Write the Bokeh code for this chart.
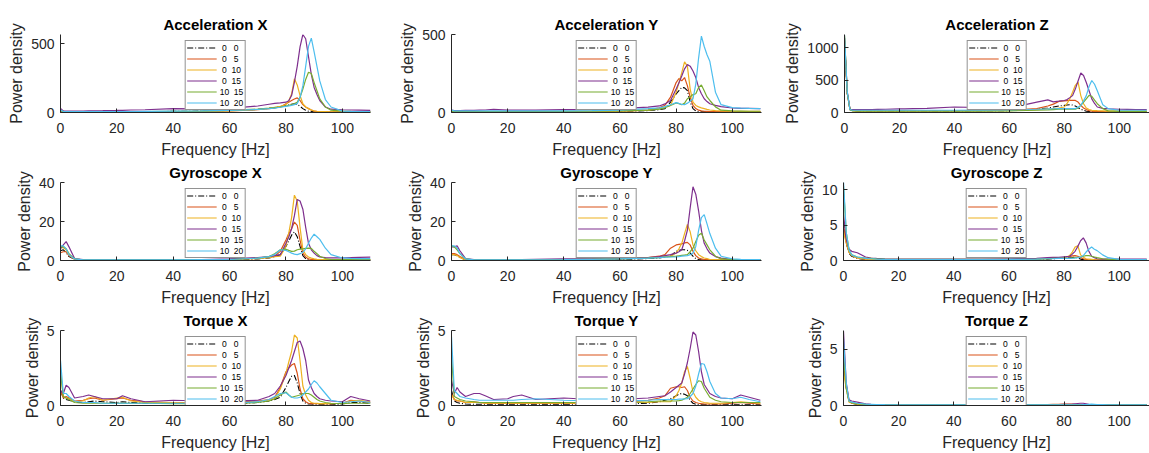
from bokeh.plotting import figure
from bokeh.layouts import row, column
from bokeh.models import Range1d, FixedTicker, Legend, LegendItem
from bokeh.embed import file_html
from bokeh.resources import INLINE

# Frequency grid [Hz]
FREQ = [0, 1, 2, 3, 5, 8, 10, 12, 15, 20,
        22, 25, 30, 40, 50, 60, 70, 74, 76, 78,
        80, 81, 82, 83, 84, 85, 86, 87, 88, 89,
        90, 91, 92, 94, 96, 100, 103, 106, 110]

NB = "\u00a0"
SERIES_LABELS = [NB + "0" + NB * 3 + "0", NB + "0" + NB * 3 + "5", NB + "0" + NB * 2 + "10",
                 NB + "0" + NB * 2 + "15", "10" + NB * 2 + "15", "10" + NB * 2 + "20"]
COLORS = ["#000000", "#D95319", "#EDB120", "#7E2F8E", "#77AC30", "#4DBEEE"]

TITLES = ["Acceleration X", "Acceleration Y", "Acceleration Z",
          "Gyroscope X", "Gyroscope Y", "Gyroscope Z",
          "Torque X", "Torque Y", "Torque Z"]
YMAX = [566, 500, 1206, 40, 40, 11.05, 5, 5, 6.67]
YTICKS = [[0, 500], [0, 500], [0, 500, 1000],
          [0, 20, 40], [0, 20, 40], [0, 5, 10],
          [0, 5], [0, 5], [0, 5]]
XTICKS = [0, 20, 40, 60, 80, 100]
XMAX = [110, 110.4, 111]

# Series order: 0 0 | 0 5 | 0 10 | 0 15 | 10 15 | 10 20
ACC_X = [
    [15, 8, 6, 6, 6, 6, 6, 6, 6, 7, 7, 7, 7, 8, 10, 15, 22, 30, 35, 42,
     50, 55, 60, 64, 58, 45, 28, 16, 9, 6, 5, 4, 4, 4, 4, 4, 4, 4, 4],
    [12, 6, 5, 5, 5, 5, 5, 5, 5, 5, 5, 5, 5, 6, 8, 12, 20, 28, 33, 40,
     64, 75, 87, 98, 106, 87, 57, 40, 28, 18, 10, 7, 6, 5, 5, 4, 4, 4, 4],
    [14, 6, 5, 5, 5, 5, 5, 5, 5, 5, 5, 5, 5, 6, 8, 12, 22, 30, 38, 45,
     57, 85, 134, 245, 200, 123, 64, 40, 28, 18, 12, 9, 7, 6, 5, 5, 5, 5, 5],
    [30, 12, 10, 10, 10, 11, 12, 12, 13, 15, 16, 18, 20, 28, 26, 30, 47, 60, 66, 70,
     75, 85, 123, 220, 335, 476, 566, 535, 405, 276, 182, 130, 87, 40, 24, 20, 18, 17, 16],
    [15, 6, 5, 5, 5, 5, 5, 5, 5, 6, 6, 6, 6, 8, 10, 15, 25, 32, 36, 40,
     47, 52, 58, 65, 75, 110, 170, 240, 292, 283, 217, 158, 99, 40, 17, 10, 8, 7, 6],
    [18, 8, 6, 6, 6, 6, 6, 6, 6, 7, 7, 7, 8, 10, 12, 15, 22, 28, 32, 38,
     45, 48, 52, 57, 64, 110, 193, 335, 480, 540, 440, 335, 229, 94, 40, 10, 8, 7, 6],
]
ACC_Y = [
    [10, 5, 5, 5, 5, 5, 5, 5, 5, 5, 5, 5, 5, 5, 6, 8, 12, 18, 25, 67,
     119, 140, 161, 158, 140, 67, 25, 10, 5, 4, 4, 4, 4, 4, 4, 4, 4, 4, 4],
    [10, 6, 6, 6, 6, 6, 6, 6, 6, 6, 6, 6, 6, 6, 7, 8, 15, 30, 46, 98,
     192, 218, 203, 224, 172, 98, 46, 25, 15, 10, 8, 7, 6, 6, 5, 5, 5, 5, 5],
    [10, 5, 5, 5, 5, 5, 5, 5, 5, 5, 5, 5, 5, 6, 7, 9, 15, 25, 35, 46,
     130, 190, 255, 324, 297, 150, 67, 45, 36, 30, 25, 20, 16, 12, 10, 8, 8, 8, 8],
    [15, 12, 12, 12, 13, 14, 15, 16, 20, 15, 15, 15, 15, 18, 20, 25, 35, 42, 55, 77,
     150, 190, 234, 280, 307, 297, 266, 224, 161, 120, 88, 70, 56, 46, 38, 29, 27, 26, 25],
    [10, 6, 6, 6, 6, 6, 6, 6, 6, 6, 6, 6, 6, 7, 8, 10, 15, 22, 30, 45,
     61, 57, 50, 60, 88, 100, 115, 120, 160, 176, 140, 100, 77, 36, 15, 10, 9, 8, 8],
    [15, 10, 10, 10, 10, 10, 10, 10, 10, 10, 10, 10, 10, 11, 12, 15, 25, 30, 38, 50,
     63, 58, 52, 50, 60, 72, 88, 182, 349, 490, 423, 370, 328, 130, 50, 31, 28, 26, 25],
]
ACC_Z = [
    [1150, 300, 45, 30, 25, 25, 25, 25, 25, 25, 25, 25, 25, 25, 27, 30, 50, 70, 85, 100,
     110, 115, 121, 115, 100, 75, 50, 35, 20, 15, 12, 10, 10, 10, 10, 10, 10, 10, 10],
    [1100, 300, 45, 30, 25, 25, 25, 25, 25, 25, 25, 25, 25, 28, 30, 35, 60, 100, 130, 171,
     181, 185, 186, 186, 186, 161, 110, 70, 45, 30, 20, 16, 14, 12, 10, 10, 10, 10, 10],
    [1180, 300, 45, 30, 25, 25, 25, 25, 25, 25, 25, 25, 25, 25, 27, 30, 45, 55, 60, 70,
     85, 140, 211, 312, 420, 470, 261, 136, 70, 45, 35, 30, 28, 25, 22, 20, 20, 20, 20],
    [1150, 320, 50, 45, 45, 45, 45, 48, 50, 55, 55, 60, 65, 85, 75, 70, 160, 195, 165, 175,
     186, 200, 230, 261, 362, 488, 610, 573, 463, 337, 211, 140, 85, 65, 58, 50, 48, 46, 45],
    [1190, 300, 40, 25, 20, 20, 20, 20, 20, 20, 20, 20, 20, 20, 22, 25, 35, 40, 45, 50,
     50, 50, 50, 50, 50, 70, 110, 160, 211, 265, 251, 190, 136, 60, 25, 18, 18, 18, 18],
    [1200, 320, 45, 35, 35, 35, 35, 35, 35, 35, 35, 35, 35, 35, 37, 40, 50, 55, 58, 60,
     60, 60, 60, 60, 60, 80, 110, 180, 261, 402, 495, 437, 337, 121, 60, 35, 35, 35, 35],
]
GYR_X = [
    [5, 5.5, 4, 2, 0.6, 0.3, 0.2, 0.2, 0.2, 0.2, 0.2, 0.2, 0.2, 0.2, 0.3, 0.4, 0.8, 1.3, 2, 3,
     7.2, 10, 13, 14.7, 12.2, 7.2, 2.5, 1, 0.3, 0.2, 0.2, 0.2, 0.2, 0.2, 0.2, 0.2, 0.2, 0.2, 0.2],
    [4, 4.5, 4.5, 2.5, 0.6, 0.3, 0.2, 0.2, 0.2, 0.2, 0.2, 0.2, 0.2, 0.3, 0.4, 0.5, 1.2, 1.8, 2.2, 4.7,
     10.5, 13.8, 16.3, 19.7, 18, 10.5, 3.8, 1.8, 0.8, 0.5, 0.4, 0.3, 0.3, 0.3, 0.3, 0.3, 0.3, 0.3, 0.3],
    [7, 6.5, 5.5, 3, 0.7, 0.3, 0.2, 0.2, 0.2, 0.2, 0.2, 0.2, 0.2, 0.3, 0.4, 0.5, 1, 1.5, 2, 2.2,
     7.2, 14, 22, 33.5, 30.5, 17, 5.5, 3, 1.8, 1.2, 0.8, 0.6, 0.5, 0.4, 0.4, 0.4, 0.4, 0.4, 0.4],
    [6, 8, 9.7, 7, 1, 0.5, 0.4, 0.4, 0.4, 0.4, 0.4, 0.4, 0.4, 0.5, 0.5, 0.8, 1.5, 2, 2.5, 3,
     8.8, 12, 16.3, 23, 31.3, 30.5, 26.3, 17, 8.8, 5.5, 3.8, 2.5, 1.8, 1.5, 1.3, 1.3, 1.5, 1.6, 1.7],
    [7, 7, 6, 3.5, 0.8, 0.3, 0.3, 0.3, 0.3, 0.3, 0.3, 0.3, 0.3, 0.3, 0.4, 0.5, 1.2, 2, 3.5, 5.5,
     5.8, 5.2, 4.7, 4.8, 5.5, 5.8, 6, 6.2, 6.3, 6.2, 4.7, 3.5, 2.2, 1, 0.5, 0.4, 0.4, 0.4, 0.4],
    [7.5, 7.5, 6, 3, 0.8, 0.3, 0.3, 0.3, 0.3, 0.3, 0.3, 0.3, 0.3, 0.3, 0.4, 0.5, 1.2, 2, 3, 5.5,
     5.2, 4.5, 3.8, 3.3, 3, 3.5, 4.2, 6, 8.8, 11.5, 13.5, 12.2, 10.8, 6.3, 3, 1.3, 1.1, 1, 1],
]
GYR_Y = [
    [3, 3, 2.5, 1.5, 0.4, 0.2, 0.2, 0.2, 0.2, 0.2, 0.2, 0.2, 0.2, 0.3, 0.3, 0.5, 1, 1.3, 1.8, 2.2,
     4.7, 5.2, 5.5, 5.5, 5.2, 3.8, 2.2, 1, 0.5, 0.3, 0.2, 0.2, 0.2, 0.2, 0.2, 0.2, 0.2, 0.2, 0.2],
    [3.5, 3.5, 3, 2, 0.5, 0.3, 0.3, 0.3, 0.3, 0.3, 0.3, 0.3, 0.3, 0.4, 0.5, 0.8, 1.5, 2.2, 3, 6.3,
     8, 8.3, 8.5, 9, 9.3, 8, 4.7, 2.5, 1.3, 0.8, 0.5, 0.4, 0.4, 0.3, 0.3, 0.3, 0.3, 0.3, 0.3],
    [3, 3, 2.5, 1.5, 0.4, 0.3, 0.3, 0.3, 0.3, 0.3, 0.3, 0.3, 0.3, 0.5, 0.8, 1.2, 1.5, 1.8, 2, 2.2,
     3.8, 6, 8.8, 13.8, 18.5, 14.7, 8, 5, 3, 2, 1.3, 1, 0.5, 0.4, 0.3, 0.3, 0.3, 0.3, 0.3],
    [7, 7, 7.5, 5, 1, 0.5, 0.5, 0.5, 0.5, 0.5, 0.5, 0.5, 0.6, 0.8, 0.8, 1, 1.5, 2, 2.5, 3,
     3.8, 4.5, 5.5, 10, 15.5, 27, 37.8, 34, 25.5, 15.5, 8.8, 6, 3.8, 2, 1.2, 0.5, 0.5, 0.5, 0.5],
    [7.5, 7, 5.5, 3.5, 0.8, 0.3, 0.3, 0.3, 0.3, 0.3, 0.3, 0.3, 0.3, 0.4, 0.6, 0.8, 1.2, 1.5, 1.8, 2,
     2.2, 2.4, 2.6, 2.8, 3, 4.5, 6.3, 9.7, 13, 14, 10.5, 8, 5.5, 2.2, 0.8, 0.4, 0.4, 0.4, 0.4],
    [7.5, 7.5, 6.5, 3.5, 0.8, 0.3, 0.3, 0.3, 0.3, 0.3, 0.3, 0.3, 0.3, 0.4, 0.6, 0.8, 1.2, 1.5, 1.7, 1.8,
     1.8, 2, 2.2, 2.4, 2.5, 3, 3.8, 7.2, 15.5, 22, 23.5, 18.8, 13.8, 6.3, 2.2, 0.8, 0.6, 0.5, 0.5],
]
GYR_Z = [
    [5.5, 2.5, 1, 0.6, 0.3, 0.15, 0.1, 0.08, 0.08, 0.08, 0.08, 0.08, 0.08, 0.08, 0.08, 0.1, 0.15, 0.2, 0.25, 0.3,
     0.35, 0.4, 0.4, 0.42, 0.45, 0.35, 0.2, 0.12, 0.08, 0.05, 0.05, 0.05, 0.05, 0.05, 0.05, 0.05, 0.05, 0.05, 0.05],
    [5, 2.5, 1.2, 0.7, 0.35, 0.2, 0.15, 0.1, 0.1, 0.1, 0.1, 0.1, 0.1, 0.1, 0.1, 0.12, 0.2, 0.3, 0.35, 0.4,
     0.45, 0.5, 0.55, 0.65, 0.7, 0.6, 0.4, 0.25, 0.15, 0.1, 0.08, 0.08, 0.08, 0.08, 0.08, 0.08, 0.08, 0.08, 0.08],
    [4, 2.5, 1.2, 0.7, 0.35, 0.2, 0.15, 0.1, 0.1, 0.1, 0.1, 0.1, 0.1, 0.1, 0.1, 0.12, 0.2, 0.25, 0.3, 0.35,
     0.4, 0.5, 0.7, 1.2, 1.9, 2.1, 0.8, 0.45, 0.25, 0.2, 0.15, 0.1, 0.1, 0.1, 0.1, 0.1, 0.1, 0.1, 0.1],
    [6.5, 3, 1.6, 1.3, 1.1, 0.5, 0.35, 0.3, 0.25, 0.2, 0.2, 0.2, 0.2, 0.2, 0.2, 0.25, 0.3, 0.4, 0.45, 0.45,
     0.5, 0.55, 0.6, 0.9, 1.3, 2, 2.8, 3.2, 2.5, 1.3, 0.6, 0.4, 0.25, 0.2, 0.2, 0.2, 0.2, 0.2, 0.2],
    [10.5, 4, 1.5, 0.8, 0.5, 0.35, 0.3, 0.25, 0.2, 0.15, 0.15, 0.15, 0.15, 0.15, 0.15, 0.15, 0.2, 0.25, 0.3, 0.3,
     0.3, 0.3, 0.3, 0.35, 0.4, 0.45, 0.5, 0.6, 0.7, 0.7, 0.6, 0.5, 0.4, 0.25, 0.15, 0.12, 0.12, 0.12, 0.12],
    [11.2, 4, 1.5, 0.8, 0.5, 0.3, 0.25, 0.2, 0.15, 0.12, 0.12, 0.12, 0.12, 0.12, 0.12, 0.15, 0.2, 0.25, 0.25, 0.3,
     0.3, 0.3, 0.3, 0.32, 0.35, 0.4, 0.5, 0.7, 1.2, 1.6, 1.9, 1.6, 1.4, 0.8, 0.4, 0.15, 0.12, 0.12, 0.12],
]
TRQ_X = [
    [1.0, 0.5, 0.4, 0.35, 0.25, 0.2, 0.25, 0.3, 0.25, 0.2, 0.25, 0.2, 0.15, 0.15, 0.12, 0.12, 0.2, 0.3, 0.4, 0.55,
     1.2, 1.6, 1.95, 2.0, 1.5, 0.8, 0.3, 0.15, 0.1, 0.1, 0.08, 0.08, 0.08, 0.08, 0.08, 0.1, 0.2, 0.2, 0.15],
    [1.0, 0.5, 0.6, 0.5, 0.3, 0.35, 0.45, 0.5, 0.35, 0.45, 0.5, 0.35, 0.25, 0.2, 0.2, 0.2, 0.3, 0.4, 0.55, 1.2,
     2.25, 2.5, 2.7, 2.8, 2.15, 1.1, 0.45, 0.25, 0.15, 0.12, 0.12, 0.12, 0.12, 0.12, 0.12, 0.15, 0.35, 0.3, 0.2],
    [2.3, 0.6, 0.5, 0.45, 0.25, 0.3, 0.5, 0.6, 0.35, 0.5, 0.55, 0.3, 0.2, 0.2, 0.15, 0.15, 0.25, 0.35, 0.45, 1.1,
     2.15, 2.9, 3.6, 4.7, 4.5, 3.0, 1.3, 0.7, 0.35, 0.2, 0.15, 0.15, 0.12, 0.12, 0.12, 0.15, 0.3, 0.35, 0.25],
    [1.0, 0.8, 1.35, 1.2, 0.5, 0.6, 0.7, 0.6, 0.45, 0.45, 0.65, 0.45, 0.25, 0.35, 0.3, 0.3, 0.35, 0.6, 0.8, 1.3,
     2.0, 2.5, 3.0, 3.6, 4.2, 4.3, 3.8, 3.0, 1.7, 1.2, 0.8, 0.6, 0.45, 0.35, 0.3, 0.25, 0.6, 0.45, 0.3],
    [2.2, 0.6, 0.5, 0.4, 0.2, 0.15, 0.15, 0.15, 0.15, 0.15, 0.15, 0.15, 0.15, 0.12, 0.12, 0.12, 0.2, 0.3, 0.45, 0.7,
     0.9, 0.7, 0.55, 0.6, 0.65, 0.7, 0.8, 0.8, 0.8, 0.7, 0.55, 0.4, 0.3, 0.2, 0.15, 0.12, 0.15, 0.15, 0.15],
    [3.0, 0.8, 0.8, 0.6, 0.3, 0.2, 0.2, 0.2, 0.15, 0.15, 0.15, 0.15, 0.15, 0.15, 0.15, 0.15, 0.25, 0.4, 0.6, 0.8,
     0.85, 0.7, 0.55, 0.5, 0.5, 0.55, 0.7, 0.9, 1.1, 1.4, 1.65, 1.5, 1.25, 0.8, 0.35, 0.2, 0.25, 0.3, 0.2],
]
TRQ_Y = [
    [1.0, 0.3, 0.2, 0.15, 0.1, 0.08, 0.08, 0.08, 0.08, 0.08, 0.08, 0.08, 0.08, 0.08, 0.08, 0.1, 0.15, 0.25, 0.35, 0.45,
     0.65, 0.75, 0.8, 0.75, 0.65, 0.35, 0.15, 0.08, 0.05, 0.05, 0.05, 0.05, 0.05, 0.05, 0.05, 0.05, 0.05, 0.05, 0.05],
    [0.8, 0.4, 0.3, 0.3, 0.2, 0.25, 0.2, 0.15, 0.15, 0.15, 0.15, 0.15, 0.15, 0.15, 0.15, 0.2, 0.35, 0.5, 0.65, 1.15,
     1.25, 1.25, 1.2, 1.25, 1.0, 0.55, 0.3, 0.2, 0.15, 0.12, 0.1, 0.1, 0.1, 0.1, 0.1, 0.15, 0.2, 0.15, 0.1],
    [0.7, 0.4, 0.35, 0.3, 0.2, 0.2, 0.2, 0.15, 0.15, 0.15, 0.15, 0.15, 0.15, 0.15, 0.15, 0.2, 0.2, 0.25, 0.25, 0.25,
     0.65, 1.0, 1.5, 2.25, 2.6, 1.8, 0.9, 0.55, 0.35, 0.25, 0.2, 0.18, 0.15, 0.15, 0.15, 0.2, 0.25, 0.2, 0.15],
    [1.7, 0.8, 1.2, 0.9, 0.6, 0.8, 0.8, 0.65, 0.4, 0.45, 0.6, 0.7, 0.4, 0.5, 0.4, 0.4, 0.5, 0.6, 0.65, 0.9,
     1.2, 1.35, 1.5, 2.1, 2.85, 3.8, 4.9, 4.7, 3.6, 2.25, 1.4, 1.1, 0.8, 0.6, 0.5, 0.45, 0.7, 0.55, 0.35],
    [3.3, 0.6, 0.5, 0.4, 0.3, 0.25, 0.2, 0.2, 0.2, 0.2, 0.2, 0.2, 0.2, 0.2, 0.2, 0.2, 0.25, 0.3, 0.3, 0.3,
     0.3, 0.32, 0.35, 0.45, 0.55, 0.8, 1.1, 1.4, 1.65, 1.6, 1.15, 0.85, 0.55, 0.35, 0.25, 0.2, 0.2, 0.2, 0.2],
    [4.6, 1.0, 0.8, 0.6, 0.5, 0.4, 0.35, 0.35, 0.35, 0.35, 0.35, 0.4, 0.45, 0.35, 0.3, 0.3, 0.35, 0.4, 0.4, 0.4,
     0.4, 0.42, 0.43, 0.44, 0.45, 0.6, 0.8, 1.3, 2.1, 2.8, 2.75, 2.25, 1.6, 0.8, 0.5, 0.45, 0.55, 0.4, 0.25],
]
TRQ_Z = [
    [4.0, 1.5, 0.4, 0.2, 0.1, 0.06, 0.05, 0.04, 0.04, 0.04, 0.04, 0.04, 0.04, 0.04, 0.04, 0.04, 0.04, 0.04, 0.04, 0.05,
     0.05, 0.05, 0.05, 0.05, 0.05, 0.05, 0.05, 0.05, 0.05, 0.04, 0.04, 0.04, 0.04, 0.04, 0.04, 0.04, 0.04, 0.04, 0.04],
    [3.5, 1.8, 0.4, 0.25, 0.15, 0.1, 0.08, 0.06, 0.05, 0.05, 0.05, 0.05, 0.05, 0.05, 0.05, 0.05, 0.06, 0.08, 0.1, 0.1,
     0.12, 0.12, 0.12, 0.12, 0.1, 0.08, 0.06, 0.05, 0.05, 0.05, 0.05, 0.05, 0.05, 0.05, 0.05, 0.05, 0.05, 0.05, 0.05],
    [3.0, 1.5, 0.3, 0.2, 0.12, 0.08, 0.06, 0.05, 0.05, 0.05, 0.05, 0.05, 0.05, 0.05, 0.05, 0.05, 0.05, 0.05, 0.05, 0.05,
     0.06, 0.06, 0.07, 0.08, 0.08, 0.07, 0.06, 0.05, 0.05, 0.05, 0.05, 0.05, 0.05, 0.05, 0.05, 0.05, 0.05, 0.05, 0.05],
    [6.6, 2.0, 0.5, 0.4, 0.3, 0.15, 0.1, 0.08, 0.06, 0.06, 0.06, 0.06, 0.06, 0.06, 0.06, 0.06, 0.06, 0.07, 0.08, 0.08,
     0.1, 0.1, 0.1, 0.12, 0.15, 0.18, 0.2, 0.2, 0.15, 0.1, 0.08, 0.07, 0.06, 0.06, 0.06, 0.06, 0.06, 0.06, 0.06],
    [4.5, 1.5, 0.4, 0.25, 0.15, 0.1, 0.08, 0.06, 0.05, 0.05, 0.05, 0.05, 0.05, 0.05, 0.05, 0.05, 0.05, 0.05, 0.05, 0.05,
     0.05, 0.05, 0.05, 0.05, 0.05, 0.05, 0.06, 0.07, 0.08, 0.08, 0.07, 0.06, 0.05, 0.05, 0.05, 0.05, 0.05, 0.05, 0.05],
    [5.9, 2.0, 0.4, 0.3, 0.2, 0.12, 0.1, 0.08, 0.07, 0.06, 0.06, 0.06, 0.06, 0.06, 0.06, 0.06, 0.06, 0.06, 0.06, 0.06,
     0.06, 0.06, 0.06, 0.06, 0.06, 0.06, 0.06, 0.07, 0.08, 0.1, 0.12, 0.1, 0.08, 0.07, 0.06, 0.06, 0.06, 0.06, 0.06],
]

PANELS = [ACC_X, ACC_Y, ACC_Z, GYR_X, GYR_Y, GYR_Z, TRQ_X, TRQ_Y, TRQ_Z]

FONT = "Liberation Sans"
AX_COL = "#262626"
# (min_border_left, frame_width, min_border_right)
COLS = [(60, 310, 20), (61, 310, 20), (62, 306, 0)]
# (min_border_top, frame_height, min_border_bottom)
ROWS = [(34, 80, 46), (20, 81, 47), (21, 79, 45)]


def make_panel(idx):
    r, c = divmod(idx, 3)
    bl, fw, br = COLS[c]
    bt, fh, bb = ROWS[r]
    p = figure(width=bl + fw + br, height=bt + fh + bb,
               x_range=Range1d(0, XMAX[c]), y_range=Range1d(0, YMAX[idx]),
               output_backend="svg", toolbar_location=None, tools="",
               min_border_left=bl, min_border_right=br,
               min_border_top=bt, min_border_bottom=bb)
    p.outline_line_color = None
    p.xgrid.visible = False
    p.ygrid.visible = False
    p.title.text = TITLES[idx]
    p.title.align = "center"
    p.title.text_font = FONT
    p.title.text_font_style = "bold"
    p.title.text_font_size = "15px"
    p.title.text_color = "#000000"
    p.title.standoff = 3
    p.xaxis.ticker = FixedTicker(ticks=XTICKS)
    p.yaxis.ticker = FixedTicker(ticks=YTICKS[idx])
    p.xaxis.axis_label = "Frequency [Hz]"
    p.yaxis.axis_label = "Power density"
    for ax in (p.xaxis[0], p.yaxis[0]):
        ax.axis_line_color = AX_COL
        ax.major_tick_line_color = AX_COL
        ax.major_tick_in = 4
        ax.major_tick_out = 0
        ax.minor_tick_line_color = None
        ax.major_label_text_font = FONT
        ax.major_label_text_font_size = "14px"
        ax.major_label_text_color = AX_COL
        ax.axis_label_text_font = FONT
        ax.axis_label_text_font_size = "16px"
        ax.axis_label_text_font_style = "normal"
        ax.axis_label_text_color = AX_COL
    p.xaxis.major_label_standoff = 10
    p.xaxis.axis_label_standoff = 5
    p.yaxis.major_label_standoff = 6
    p.yaxis.axis_label_standoff = 3

    items = []
    for s, (vals, col) in enumerate(zip(PANELS[idx], COLORS)):
        if s == 0:
            rr = p.line(FREQ, vals, line_color=col, line_width=1.1, line_dash="6 2 1 2")
        else:
            rr = p.line(FREQ, vals, line_color=col, line_width=1.2)
        items.append(LegendItem(label=SERIES_LABELS[s], renderers=[rr]))
    leg = Legend(items=items, location="top_center",
                 border_line_color=AX_COL, border_line_width=1,
                 background_fill_color="white", background_fill_alpha=1,
                 label_text_font=FONT, label_text_font_size="8.5px",
                 label_text_color="#000000",
                 glyph_width=30, glyph_height=11, label_height=11,
                 label_width=20, label_standoff=3, spacing=0,
                 padding=1, margin=6)
    p.add_layout(leg)
    return p


figs = [make_panel(i) for i in range(9)]
layout = column(row(*figs[0:3]), row(*figs[3:6]), row(*figs[6:9]))

open("out.html", "w").write(file_html(layout, INLINE))
